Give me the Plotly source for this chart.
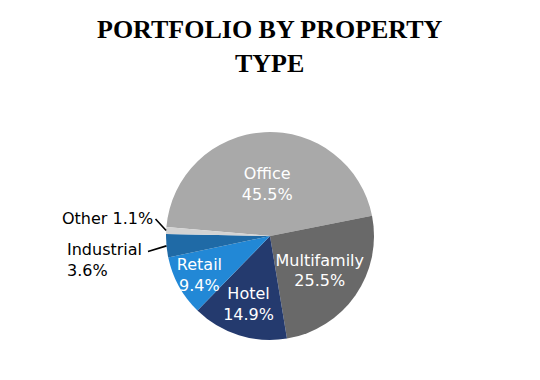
import math
import plotly.graph_objects as go

labels = ["Office", "Multifamily", "Hotel", "Retail", "Industrial", "Other"]
values = [45.5, 25.5, 14.9, 9.4, 3.6, 1.1]
colors = ["#a9a9a9", "#696969", "#243a6e", "#2288d6", "#1f6aa6", "#d3d3d3"]
positions = ["inside", "inside", "inside", "inside", "none", "none"]
outside_text = {"Industrial": "Industrial<br>3.6%", "Other": "Other 1.1%"}
# leader-line tail offsets (px) and label box anchor (page px, top-left / right-middle)
leader = {"Industrial": (-20, 6), "Other": (-12, -13)}
label_box = {"Industrial": (65, 238, "left", "top"), "Other": (155, 218, "right", "middle")}

ROT = -85
fig = go.Figure(go.Pie(
    labels=labels, values=values, sort=False, direction="clockwise",
    rotation=ROT,
    marker=dict(colors=colors, line=dict(width=0)),
    texttemplate="%{label}<br>%{percent:.1%}", textposition=positions,
    insidetextorientation="horizontal",
    insidetextfont=dict(color="white", family="DejaVu Sans", size=16),
    showlegend=False, hoverinfo="label+percent",
))

W, H = 540, 380
OFF = 8  # page body margin
ml, mr, mt, mb = 0, 16, 124, 48
pw, ph = W - ml - mr, H - mt - mb
fig.update_layout(
    width=W, height=H,
    margin=dict(l=ml, r=mr, t=mt, b=mb),
    paper_bgcolor="white",
    uniformtext=dict(minsize=16, mode="show"),
)


def to_paper(xp, yp):
    return (xp - OFF - ml) / pw, 1 - (yp - OFF - mt) / ph


tx, ty = to_paper(270, 13)
fig.add_annotation(text="<b>PORTFOLIO BY PROPERTY<br>TYPE</b>", xref="paper", yref="paper",
                   x=tx, y=ty, xanchor="center", yanchor="top", showarrow=False,
                   font=dict(family="Liberation Serif", size=26, color="black"))

total = sum(values)
start = ROT
for lab, v in zip(labels, values):
    mid = start + 360 * v / total / 2
    start += 360 * v / total
    if lab in outside_text:
        a = math.radians(mid)
        px = 0.5 + (0.5 * ph * math.sin(a)) / pw
        py = 0.5 + 0.5 * math.cos(a)
        ax, ay = leader[lab]
        fig.add_annotation(text="", x=px, y=py, xref="paper", yref="paper",
                           showarrow=True, arrowhead=0, arrowwidth=1.6, arrowcolor="black",
                           ax=ax, ay=ay, standoff=0, startstandoff=0)
        bx, by, xa, ya = label_box[lab]
        lx, ly = to_paper(bx, by)
        fig.add_annotation(text=outside_text[lab], x=lx, y=ly, xref="paper", yref="paper",
                           showarrow=False, xanchor=xa, yanchor=ya, align="left",
                           font=dict(family="DejaVu Sans", size=16, color="black"))
fig.write_html("out.html")
